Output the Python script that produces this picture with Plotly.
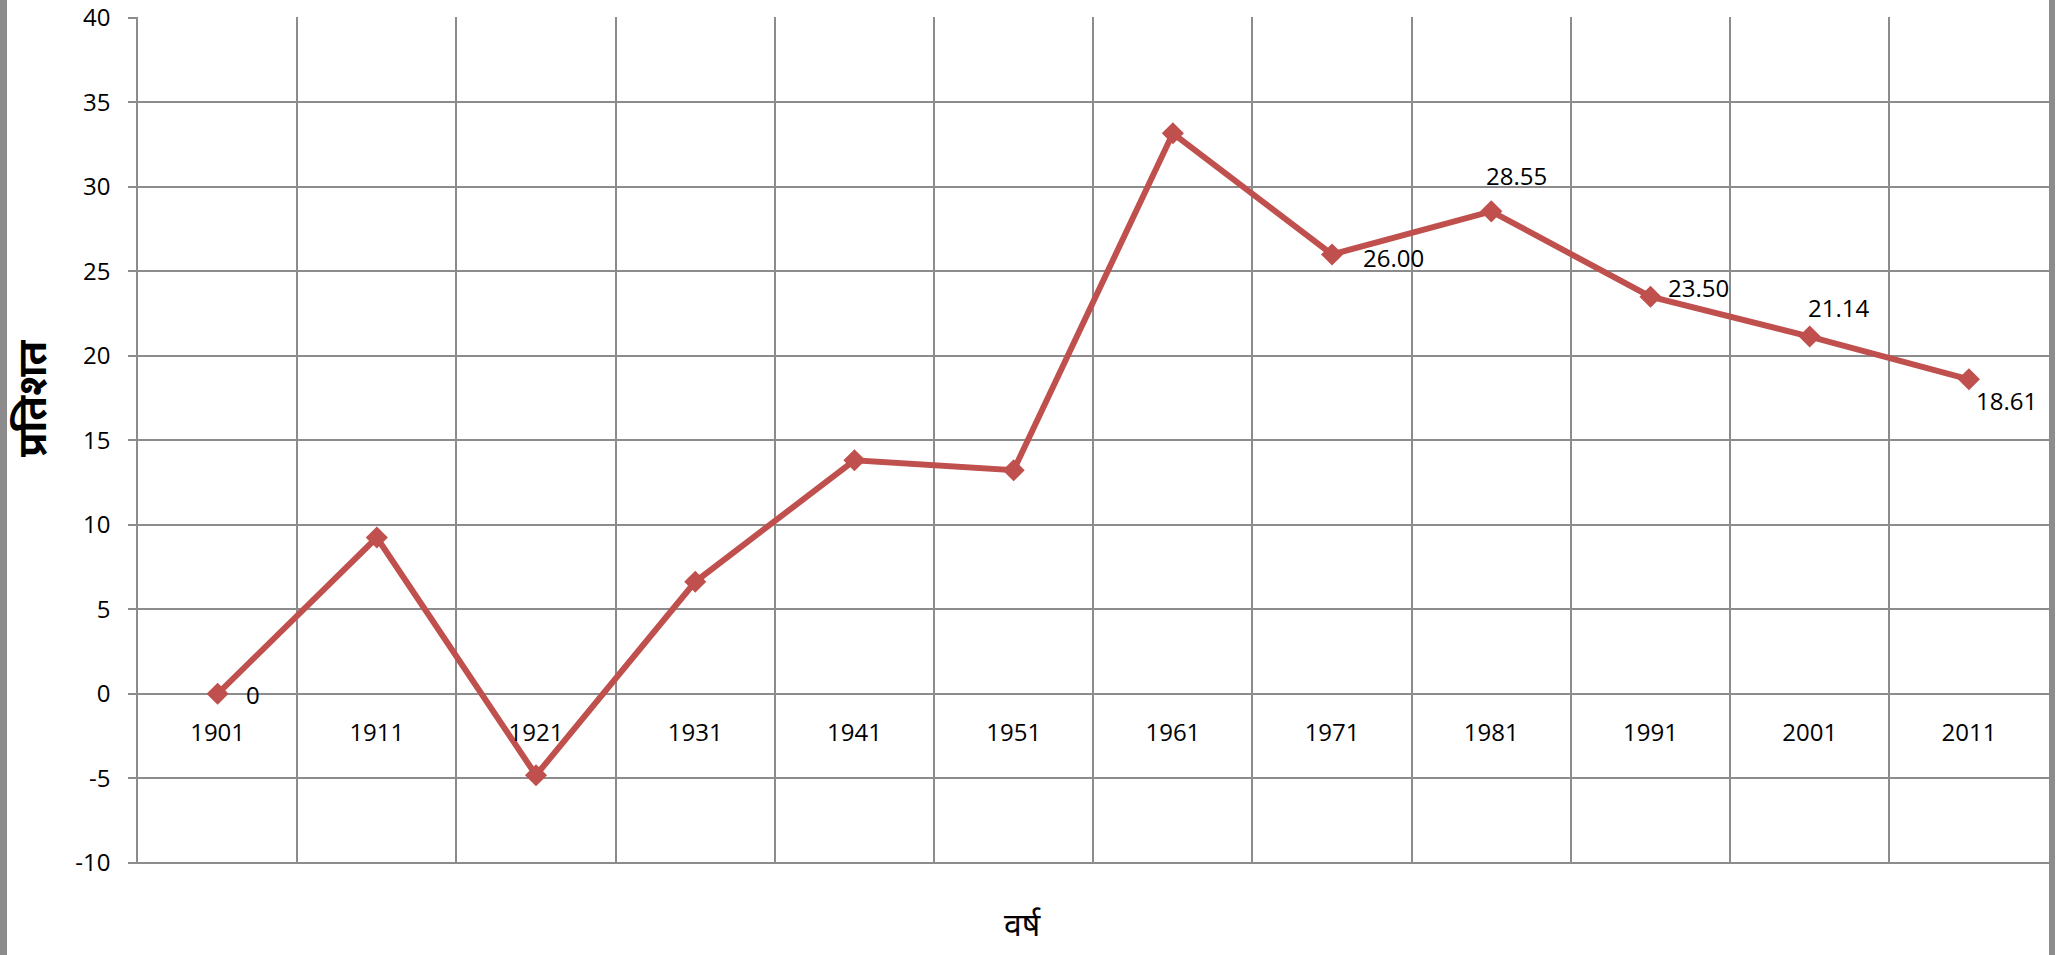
import plotly.graph_objects as go

years = ["1901", "1911", "1921", "1931", "1941", "1951", "1961", "1971", "1981", "1991", "2001", "2011"]
growth = [0, 9.25, -4.82, 6.63, 13.82, 13.23, 33.17, 26.00, 28.55, 23.50, 21.14, 18.61]
label_text = ["0", None, None, None, None, None, None, "26.00", "28.55", "23.50", "21.14", "18.61"]
label_shift = [(35, -1), None, None, None, None, None, None, (61, -3), (25, 36), (48, 9), (29, 29), (38, -21)]
y_ticks = [-10, -5, 0, 5, 10, 15, 20, 25, 30, 35, 40]
y_tick_text = ["-10", "-5", "0", "5", "10", "15", "20", "25", "30", "35", "40"]
y_title = "प्रतिशत"
x_title = "वर्ष"

LINE_COLOR = "#C0504D"
GRID = "#8c8c8c"
FONT = "Open Sans, Noto Sans, Noto Sans Devanagari, sans-serif"
DEV_FONT = "Noto Sans Devanagari, Noto Sans, Lohit Devanagari, FreeSans, sans-serif"

x_idx = list(range(len(years)))

fig = go.Figure()
fig.add_trace(go.Scatter(
    x=x_idx, y=growth, mode="lines+markers",
    line=dict(color=LINE_COLOR, width=6),
    marker=dict(symbol="diamond", size=17, color=LINE_COLOR),
    hoverinfo="x+y", showlegend=False, cliponaxis=False,
))

for i, (t, s) in enumerate(zip(label_text, label_shift)):
    if t is None:
        continue
    fig.add_annotation(x=x_idx[i], y=growth[i], text=t, showarrow=False,
                       xshift=s[0], yshift=s[1], xanchor="center", yanchor="middle",
                       font=dict(family=FONT, size=24, color="#000000"))

fig.add_annotation(x=0, xref="paper", y=0, yref="paper", xshift=-102, yshift=864 - 398,
                   xanchor="center", yanchor="middle",
                   text=f"<b>{y_title}</b>", textangle=-90, showarrow=False,
                   font=dict(family=DEV_FONT, size=40, color="#000000"))
fig.add_annotation(x=0, xref="paper", y=0, yref="paper", xshift=1022 - 138, yshift=-(928 - 864),
                   xanchor="center", yanchor="middle",
                   text=x_title, showarrow=False,
                   font=dict(family=DEV_FONT, size=32, color="#000000"))

# frame borders
fig.add_shape(type="rect", xref="paper", yref="paper", xsizemode="pixel", ysizemode="pixel",
              xanchor=0, yanchor=0, x0=-138, x1=-131, y0=-91, y1=864,
              fillcolor=GRID, line=dict(width=0), layer="above")
fig.add_shape(type="rect", xref="paper", yref="paper", xsizemode="pixel", ysizemode="pixel",
              xanchor=1, yanchor=0, x0=0, x1=6, y0=-91, y1=864,
              fillcolor=GRID, line=dict(width=0), layer="above")

fig.update_layout(
    width=2057, height=955,
    margin=dict(l=138, r=8, t=17, b=91, autoexpand=False),
    paper_bgcolor="white", plot_bgcolor="white",
    font=dict(family=FONT, size=24, color="#000000"),
    xaxis=dict(
        range=[-0.5, 11.503], tickmode="array", tickvals=x_idx, ticktext=years,
        showgrid=False, zeroline=False, showline=False, ticks="",
        anchor="free", position=0.2, ticklabelstandoff=21, automargin=False,
        tickfont=dict(family=FONT, size=24, color="#000000"),
        minor=dict(tick0=0.5, dtick=1, showgrid=True, gridcolor=GRID, gridwidth=1.5),
        fixedrange=True,
    ),
    yaxis=dict(
        range=[-10.07, 40.05], tickmode="array", tickvals=y_ticks, ticktext=y_tick_text,
        showgrid=True, gridcolor=GRID, gridwidth=1.5,
        zeroline=True, zerolinecolor=GRID, zerolinewidth=1.5,
        showline=True, linecolor=GRID, linewidth=1.5,
        ticks="outside", ticklen=8, tickcolor=GRID, tickwidth=1.5,
        ticklabelstandoff=13, automargin=False, ticklabeloverflow="allow",
        tickfont=dict(family=FONT, size=24, color="#000000"),
        fixedrange=True,
    ),
)

fig.write_html("out.html", config={"displayModeBar": False},
               post_script="document.body.style.margin='0';")
